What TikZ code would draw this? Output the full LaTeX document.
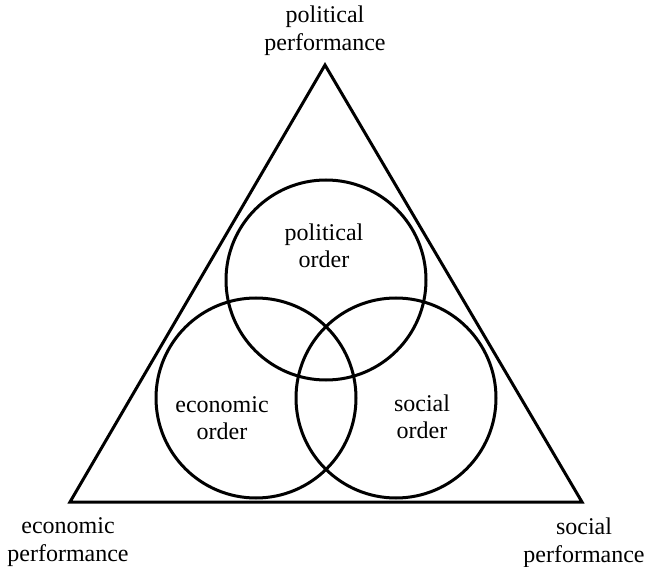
\documentclass[tikz,border=0pt]{standalone}
\usepackage{fontspec}
\setmainfont{Liberation Serif}
\begin{document}
\begin{tikzpicture}[x=1pt,y=-1pt,
  lbl/.style={align=center,font=\fontsize{24}{28}\selectfont,inner sep=0pt},
  olbl/.style={lbl,font=\fontsize{24}{27}\selectfont},
  shape line/.style={line width=3pt},
  ring/.style={shape line,draw,circle,minimum size=200pt,inner sep=0pt}]
\useasboundingbox (0,0) rectangle (646,567);
\coordinate (top) at (325,65);
\coordinate (bl) at (70,502);
\coordinate (br) at (582,502);
\draw[shape line] (top) -- (bl) -- (br) -- cycle;
\node[ring] (cpol) at (326,280) {};
\node[ring] (ceco) at (256,398) {};
\node[ring] (csoc) at (396,398) {};
\node[lbl] (ppol) at (325,31) {political\\performance};
\node[lbl] (peco) at (68,542) {economic\\performance};
\node[lbl] (psoc) at (584,543) {social\\performance};
\node[olbl] (opol) at (324,246) {political\\order};
\node[olbl] (oeco) at (222,418) {economic\\order};
\node[olbl] (osoc) at (422,417) {social\\order};
\end{tikzpicture}
\end{document}
